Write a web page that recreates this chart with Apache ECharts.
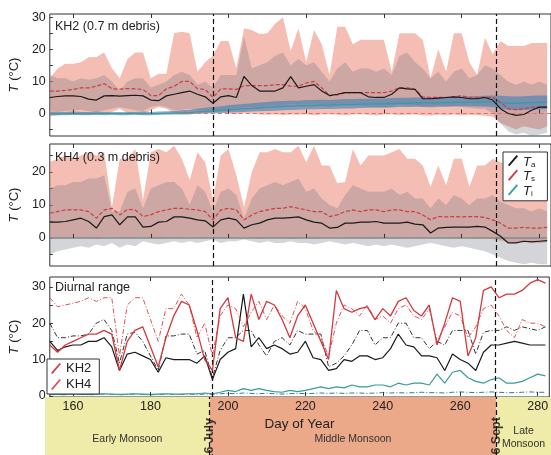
<!DOCTYPE html>
<html>
<head>
<meta charset="utf-8">
<script src="https://cdn.jsdelivr.net/npm/echarts@6/dist/echarts.min.js"></script>
<style>
html, body { margin: 0; padding: 0; background: #fff; }
#main { width: 551px; height: 455px; }
</style>
</head>
<body>
<div id="main"></div>
<script>
// day of year, every second day
const days = [154,156,158,160,162,164,166,168,170,172,
  174,176,178,180,182,184,186,188,190,192,
  194,196,198,200,202,204,206,208,210,212,
  214,216,218,220,222,224,226,228,230,232,
  234,236,238,240,242,244,246,248,250,252,
  254,256,258,260,262,264,266,268,270,272,
  274,276,278,280,282];

const xTicks = [160, 180, 200, 220, 240, 260, 280];
const phaseNames = ['Early Monsoon', 'Middle Monsoon', 'Late\nMonsoon'];
const phaseStart = [154, 196, 269];
const phaseEnd = [196, 269, 283];
const boundaryDays = [196, 269];
const boundaryLabels = ['16 July', '26 Sept'];

// KH2 (0.7 m debris)
const kh2TsMax = [11,14,15.5,15.5,16,17.5,17.6,19,14,11,
  17,19,19,11,12.4,12.4,25,25.5,25,13,
  16,18,22.6,22.6,14,26.6,26,24.8,25,28,
  30,19.5,26.6,16,26,21.6,12,27,27,21.6,
  23,23,23,23,13,25,25,25,23,11,
  20,13,25,25,16,12,23.6,18.5,22.6,21,
  21,21,22,22,22];
const kh2TsMin = [-0.8,-0.5,-0.3,-0.5,-0.2,-0.4,-0.3,-0.2,0.5,1.5,
  0.2,-0.2,-0.3,1,2,1.5,0,-0.2,-0.3,0.2,
  0,0.5,0.3,0,-0.2,0.2,0,-0.3,-0.4,-0.2,
  -0.5,-0.3,-0.4,-0.2,-0.5,-0.3,-0.2,-0.4,-0.5,-0.3,
  -0.2,-0.4,-0.6,-0.3,-0.2,-0.5,-0.4,-0.3,-0.5,-0.6,
  -0.4,-0.5,-0.3,-0.6,-0.4,-0.5,-0.7,-1,-3,-4,
  -5,-4,-4.5,-5,-4];
const kh2TaMax = [12,11,11,10,11,10.5,11,12,10,7,
  10,11,11,8,9,10,12,13,12,9,
  10,8,12,12,12,24,14,15,16,18,
  19,15,17,15,16,13,10,14,16,13,
  14,14,13,14,12,18,19,16,14,11,
  13,10,13,14,11,12,15,14,12,10,
  9,10,9,10,9];
const kh2TaMin = [1,0.5,0.8,1,1.2,0.8,0.5,1,1.5,2,
  1.5,1,0.8,2,2.5,2,1,1.2,1.5,1,
  1,0.5,1,1.5,1.5,2,2,2.2,2.5,2.5,
  2.5,3,2.8,3,3,2.5,2,2.5,2.8,2.5,
  2.5,2.2,2,2,2.3,2.8,2.5,2.5,2,1.8,
  2,2,2.2,2,1.8,1.5,1.5,0,-3,-5.5,
  -6.5,-6,-7,-6.5,-6];
const kh2TiMax = [0.6,0.5,0.5,0.6,0.5,0.5,0.6,0.5,0.5,0.5,
  0.5,0.5,0.6,0.5,0.6,0.7,0.8,1,1.2,1.5,
  1.8,2,2.3,2.6,2.8,3,3.2,3.4,3.6,3.8,
  3.9,4,4,4.2,4.2,4.3,4.2,4.4,4.5,4.5,
  4.6,4.6,4.7,4.7,4.8,4.9,4.9,5,5,5,
  5.1,5.1,5.2,5.3,5.3,5.4,5.5,5.6,5.5,5.4,
  5.3,5.4,5.5,5.6,5.6];
const kh2TiMin = [-0.6,-0.5,-0.5,-0.4,-0.5,-0.5,-0.4,-0.5,-0.4,-0.5,
  -0.5,-0.4,-0.5,-0.5,-0.4,-0.4,-0.3,-0.3,-0.2,-0.1,
  0,0.1,0.2,0.3,0.4,0.5,0.6,0.7,0.8,0.9,
  1,1.1,1.2,1.3,1.3,1.4,1.4,1.5,1.6,1.6,
  1.7,1.8,1.8,1.8,1.9,2,2,2.1,2.1,2.1,
  2.2,2.2,2.3,2.3,2.3,2.2,2.2,2,1.6,1.2,
  1,1.1,1.2,1.3,1.3];
const kh2Ta = [5,5.3,5.5,5.5,5.3,4.5,4.2,5.5,5.6,5.4,
  5.6,5.7,5.5,4.2,4,5.5,6,6.5,7,6,
  5.2,3.2,5.2,5.6,5,11.6,8.7,7,7,7,
  8,11.5,8,8.5,9,7,5.6,6,6.5,6.5,
  6.5,5.2,5,5,6,8,7.7,7.5,4.6,4.6,
  4.8,5,5.2,5,4.6,4.6,5,4.2,1.5,0,
  -0.6,-0.3,1,2,2];
const kh2Ts = [7,7,7.2,7.5,8,8,8.5,9.3,7.7,7.6,
  7.8,7.7,7.5,5.6,5.6,7.7,8.5,10,10,7.7,
  7.5,5,7.7,7.7,7.5,8.7,8.7,8.7,8.7,9,
  9,8.5,8.5,9.5,10,8,5.6,5.8,6.5,6.5,
  6.5,6.5,6.5,6.5,7,8,8,7.5,5.2,5,
  5,5,5.2,5.5,5,5,5,5,3.5,1.5,
  1.2,1.5,2,2,2];
const kh2Ti = [0,0,0,0,0,0,0,0,0,0,
  0,0,0,0,0,0.1,0.1,0.2,0.3,0.5,
  0.7,0.8,1,1.2,1.3,1.5,1.6,1.8,2,2.1,
  2.2,2.3,2.4,2.5,2.5,2.6,2.6,2.7,2.8,2.8,
  2.9,3,3,3,3.1,3.2,3.2,3.3,3.3,3.3,
  3.4,3.4,3.5,3.5,3.5,3.5,3.6,3.6,3.4,3.2,
  3.2,3.3,3.4,3.5,3.5];

// KH4 (0.3 m debris)
const kh4TsMax = [23,24,25,24,25,26,25,26,9.4,24,
  24,27,11.5,26,27,26,28,24,17.6,26,
  23,11.5,25,27,19,9.4,20,26,26,27,
  26,26,28,23,28,22,22,16.6,17,27,
  22,25,25,25,26,27,24,24,22,15.5,
  22,16,24,24,15.5,22,22,24,23,22,
  22,21,22,22,22];
const kh4TsMin = [-0.3,0,-0.2,0.1,-0.1,0,-0.2,0.1,0.2,0,
  -0.1,0,0.3,0,-0.2,0.1,0,-0.1,0.2,0,
  -0.1,0.2,0,-0.1,0.1,0.3,0,-0.2,0,-0.1,
  0,-0.2,-0.1,0,-0.2,0.1,0,0.2,0,-0.1,
  0,-0.2,0,-0.1,0,-0.2,0.1,0,-0.1,0.2,
  0,0.1,-0.1,0,0.1,-0.2,0,-0.3,-0.8,-1.2,
  -1.5,-1.2,-1.4,-1.5,-1.3];
const kh4TaMax = [15,16,16,17,17,18,18,19,8,8,
  14,15,9,15,16,17,17,15,10,16,
  14,8,14,15,13,6,12,15,16,17,
  16,17,18,14,15,12,10,9,13,16,
  15,14,14,14,15,13,14,12,12,9,
  12,10,13,12,10,12,12,13,11,10,
  9,9,8,9,8];
const kh4TaMin = [-5,-4,-3.5,-3,-2.5,-3,-2,-2.5,-1.5,-3,
  -2,-2.5,-1,-1.5,-2,-1.5,-1,-1.5,-1,-1.5,
  -1,-0.5,-1.5,-1,-1,-0.5,-1,-1.5,-1,-1.5,
  -1.5,-1,-1.5,-1.5,-2,-1.5,-1,-1.5,-2,-1.5,
  -2,-2.5,-2,-2.5,-2,-2.5,-3,-2.5,-2,-1.5,
  -2,-2.5,-3,-2.5,-3,-3.5,-4,-5,-6,-7,
  -7.5,-8,-7.5,-8,-8];
const kh4Ta = [4.8,4.8,5,5.5,6,5,3,6.5,7,4,
  6.4,6.4,3.3,3.5,4.8,5,6.4,6.4,6,5.5,
  5.2,3.3,5.5,6,5.5,3,4,4.5,5.5,6,
  6,6.2,6.4,5.5,4.8,4.5,3,3.2,4.5,4.5,
  4.8,4.8,5,4.5,4.5,4.5,4.8,4.2,4,1.5,
  3,3.2,3.3,3.3,3.3,3.5,3.3,2,0.5,-1.5,
  -1.5,-1,-1.2,-1,-0.8];
const kh4Ts = [7.5,8,8.5,8.5,8.5,8,6,8.5,9,7,
  8.7,8.5,6.5,7,8,8.5,9,9,8.7,8.5,
  8,5.5,8.5,9,8.5,5.5,7,8,8.5,9,
  9,9.5,9,8.5,8,8,6.5,7,8,8.5,
  8,8.5,8.5,8,8.5,8.5,8,8,7,5.5,
  6.5,6.4,6.5,6.4,6.5,6.5,6.2,5.5,4.5,3,
  3,3.2,3,3,3.2];
const kh4Ti = [0,0,0,0,0,0,0,0,0,0,
  0,0,0,0,0,0,0,0,0,0,
  0,0,0,0,0,0,0,0,0,0,
  0,0,0,0,0,0,0,0,0,0,
  0,0,0,0,0,0,0,0,0,0,
  0,0,0,0,0,0,0,0,0,0,
  0,0,0,0,0];

// diurnal range
const drKh2Ts = [14,12,14,15,16,17,17,18,17,7,
  15,18,19,13.5,8,16,22,26,25,18,
  10,7,24,27,16,15,28,21,26,25,
  21,16,22,25,20,15,10,29,24,23,
  24,24.5,21,24,22,26,27,23.5,22,25,
  14,20,27,26,11,16,29,30,27,28,
  28,29,31,32,31];
const drKh4Ts = [27,24.5,25,25.5,26,27,26,27,27,11,
  25,27,27,21,15,24,24,28,25,16,
  20,11,22,25,24,19,23,26,21,25,
  22,20,26,24,18,16,11,20,25,24,
  22,25,21,22,20,24,25,22,21,24,
  15,19,23,22,16,19,24,25,22,18,
  16,21,20,20,19];
const drKh2Ta = [15,12.5,13.5,14,14,15,15,16,13.5,7,
  11.5,12,11,10,6.5,10.5,10,10,10,9,
  11,4.5,10,12,13,28,13.5,16,13,14,
  13,11.5,12,15,10.5,10,7,7.5,10,9.5,
  11,11,10,10.5,13,17,14,13.5,11,11,
  10.5,7,11.5,10,9,7,12,14,14,14.5,
  15,14.5,14,14,14];
const drKh4Ta = [20,16,16,16.5,16.5,17,20,21,18,9,
  17,17.5,15,11,7,16.5,16.5,17,17,11.5,
  12.5,5,12.5,16,16,18,18,14,11,15,
  16,14,18,17,17,17,8,9,11,14,
  18,18,14,16,16,20,20,16,16,13,
  15,14,18,18,18,11.5,17.5,18,18,19,
  18,19,18.5,18,19];
const drKh2Ti = [0.4,0.5,0.4,0.6,0.5,0.4,0.5,0.6,0.5,0.4,
  0.5,0.6,0.5,0.4,0.5,0.6,0.5,0.5,0.6,0.6,
  0.8,0.6,1,1.5,1.2,2,1.5,2,1.5,1.2,
  1,1.5,1.2,1.5,2,2.5,2,2.5,2.2,3,
  2.5,2.5,3,3,2.5,3.5,3,3.5,3.5,3,
  6,3.5,6.5,7,5,4,3.5,4.5,5,3.5,
  3.5,4,5,6,5.5];
const drKh4Ti = [0.3,0.4,0.3,0.5,0.4,0.3,0.4,0.5,0.4,0.3,
  0.4,0.5,0.4,0.3,0.4,0.5,0.4,0.4,0.5,0.4,
  0.5,0.4,0.6,0.7,0.6,0.8,0.7,0.6,0.7,0.6,
  0.5,0.6,0.7,0.6,0.7,0.8,0.7,0.8,0.7,0.8,
  0.8,0.7,0.8,0.9,0.8,0.9,0.8,0.9,1,0.9,
  0.9,0.8,1,1.1,1,0.9,1,1.1,1,0.9,
  0.9,1,1.1,1,1];

const FONT = 'Liberation Sans';
const X_MIN = 154, X_MAX = 283;
const TXT = '#222';
const RED = '#d23a3f';
const TEAL = '#3a9c9c';
const SLASH = 'path://M0,10 L8.6,0 L10,1.2 L1.4,11.2 Z';
const DASHDOT = [5, 2, 1, 2];

const pts = arr => days.map((d, i) => [d, arr[i]]);

// min-max envelope as one polygon, placed through the grid's own axes
function band(gi, lo, hi, color, z) {
  return {
    type: 'custom', xAxisIndex: gi, yAxisIndex: gi, silent: true, z: z, clip: true,
    data: [[days[0], lo[0]]],
    renderItem: (params, api) => {
      const top = days.map((d, i) => api.coord([d, hi[i]]));
      const bottom = days.map((d, i) => api.coord([d, lo[i]])).reverse();
      return { type: 'polygon', shape: { points: top.concat(bottom) }, style: { fill: color } };
    }
  };
}

function line(name, gi, arr, color, type, width, z) {
  return {
    type: 'line', name: name, xAxisIndex: gi, yAxisIndex: gi, data: pts(arr),
    symbol: 'none', silent: true, z: z || 5,
    lineStyle: { color: color, type: type || 'solid', width: width || 1.2 },
    itemStyle: { color: color }
  };
}

const phaseMark = {
  silent: true, symbol: ['none', 'none'], label: { show: false },
  lineStyle: { color: '#111', type: [5, 3], width: 1.2 },
  data: boundaryDays.map(d => ({ xAxis: d }))
};

function xAxisBottom(gi, showLabel) {
  return {
    type: 'value', gridIndex: gi, min: X_MIN, max: X_MAX, position: 'bottom',
    splitLine: { show: false }, axisLine: { show: false }, z: 8,
    axisTick: { inside: true, length: 4, customValues: xTicks, lineStyle: { color: '#333' } },
    axisLabel: { show: showLabel, customValues: xTicks, margin: 3, fontSize: 12.5, color: TXT, fontFamily: FONT },
    name: showLabel ? 'Day of Year' : '', nameLocation: 'middle', nameGap: 20,
    nameTextStyle: { fontSize: 13.5, color: TXT, fontFamily: FONT }
  };
}
function xAxisTop(gi) {
  return {
    type: 'value', gridIndex: gi, min: X_MIN, max: X_MAX, position: 'top',
    splitLine: { show: false }, axisLine: { show: false }, axisLabel: { show: false },
    axisTick: { inside: true, length: 4, customValues: xTicks, lineStyle: { color: '#333' } }
  };
}
function yAxis(gi, min, max, labels, ticks) {
  return {
    type: 'value', gridIndex: gi, min: min, max: max,
    splitLine: { show: false }, axisLine: { show: false },
    axisTick: { inside: true, length: 3, customValues: ticks, lineStyle: { color: '#333' } },
    axisLabel: { customValues: labels, margin: 4, fontSize: 12.5, color: TXT, fontFamily: FONT },
    name: '{i|T} (°C)', nameLocation: 'middle', nameGap: 21,
    nameTextStyle: { fontSize: 13, color: TXT, fontFamily: FONT,
      rich: { i: { fontStyle: 'italic', fontSize: 13, color: TXT, fontFamily: FONT } } }
  };
}

const gridBox = { show: true, borderColor: '#333', borderWidth: 1, left: 45, right: -4 };
const panelTitle = (text, top) => ({
  text: text, left: 55, top: top, padding: 0,
  textStyle: { fontSize: 12.5, fontWeight: 'normal', color: TXT, fontFamily: FONT }
});

const PINK = 'rgba(236,125,105,0.5)';
const GREY = 'rgba(110,115,130,0.3)';
const BLUE = 'rgba(60,125,185,0.6)';

const chart = echarts.init(document.getElementById('main'));

const p1Ta = line('Ta', 0, kh2Ta, '#1a1a1a', 'solid', 1.2, 6);
p1Ta.markLine = phaseMark;
const p1Ts = line('Ts', 0, kh2Ts, RED, [4, 2], 1.2, 6);
p1Ts.markLine = { silent: true, symbol: ['none', 'none'], label: { show: false },
  lineStyle: { color: '#e0706a', type: [4, 3], width: 1 }, data: [{ yAxis: 0 }] };
const p2Ta = line('Ta', 1, kh4Ta, '#1a1a1a', 'solid', 1.2, 6);
p2Ta.markLine = phaseMark;
const p2Ti = line('Ti', 1, kh4Ti, '#7f8c8c', 'solid', 1.4, 5);
const p3Ta = line('KH2 Ta', 2, drKh2Ta, '#1a1a1a', 'solid', 1.2, 5);
p3Ta.markLine = phaseMark;

const bandSeries = {
  type: 'line', xAxisIndex: 3, yAxisIndex: 3, silent: true, symbol: 'none',
  lineStyle: { width: 0, opacity: 0 }, z: 1,
  data: phaseStart.map(d => [d, 0]),
  markArea: {
    silent: true,
    data: phaseNames.map((n, i) => [
      { xAxis: phaseStart[i], name: n,
        itemStyle: { color: i === 1 ? '#eca98a' : '#efeba8' },
        label: { show: true, position: 'insideBottom', distance: i === 2 ? 4 : 9,
          fontSize: 10.5, lineHeight: 13, color: '#333', fontFamily: FONT } },
      { xAxis: phaseEnd[i] }
    ])
  },
  markLine: phaseMark
};
const dateSeries = {
  type: 'scatter', xAxisIndex: 3, yAxisIndex: 3, silent: true, symbolSize: 0, z: 6,
  data: boundaryDays.map((d, i) => ({ value: [d, 0.27], name: boundaryLabels[i] })),
  label: { show: true, position: 'inside', rotate: 90, formatter: p => p.name,
    fontSize: 12.5, fontWeight: 'bold', color: '#111', fontFamily: FONT }
};

chart.setOption({
  animation: false,
  backgroundColor: '#fff',
  textStyle: { fontFamily: FONT },
  title: [
    panelTitle('KH2 (0.7 m debris)', 20),
    panelTitle('KH4 (0.3 m debris)', 151),
    panelTitle('Diurnal range', 281)
  ],
  grid: [
    Object.assign({ top: 14, height: 122 }, gridBox),
    Object.assign({ top: 144, height: 122 }, gridBox),
    Object.assign({ top: 277, height: 120 }, gridBox),
    { left: 45, right: -4, top: 397, height: 58, show: false }
  ],
  xAxis: [
    xAxisBottom(0, false), xAxisBottom(1, false), xAxisBottom(2, true),
    { type: 'value', gridIndex: 3, min: X_MIN, max: X_MAX, show: false },
    xAxisTop(0), xAxisTop(1), xAxisTop(2)
  ],
  yAxis: [
    yAxis(0, -7, 31, [0, 10, 20, 30], [-5, 0, 5, 10, 15, 20, 25, 30]),
    yAxis(1, -8.5, 28.5, [0, 10, 20], [-5, 0, 5, 10, 15, 20, 25]),
    yAxis(2, -0.3, 32.7, [0, 10, 20, 30], [0, 5, 10, 15, 20, 25, 30]),
    { type: 'value', gridIndex: 3, min: 0, max: 1, show: false }
  ],
  legend: [
    {
      data: ['Ta', 'Ts', 'Ti'], orient: 'vertical', left: 503, top: 152, z: 10,
      icon: SLASH, itemWidth: 10, itemHeight: 12, itemGap: 1,
      padding: [3, 12, 3, 5], backgroundColor: '#fff', borderColor: '#333', borderWidth: 1,
      selectedMode: false,
      formatter: n => '{t|T}{s|' + n.slice(1) + '}',
      textStyle: { color: TXT, fontFamily: FONT, rich: {
        t: { fontSize: 13, fontStyle: 'italic', lineHeight: 16, verticalAlign: 'bottom', color: TXT, fontFamily: FONT },
        s: { fontSize: 8, lineHeight: 8, verticalAlign: 'bottom', color: TXT, fontFamily: FONT } } }
    },
    {
      data: ['KH2', 'KH4'], orient: 'vertical', left: 47, top: 359, z: 10,
      icon: SLASH, itemWidth: 10, itemHeight: 12, itemGap: 3,
      padding: [3, 8, 3, 4], backgroundColor: '#fff', borderColor: '#333', borderWidth: 1,
      selectedMode: false,
      textStyle: { fontSize: 13, color: TXT, fontFamily: FONT }
    }
  ],
  series: [
    // panel 1: KH2
    band(0, kh2TsMin, kh2TsMax, PINK, 1),
    band(0, kh2TaMin, kh2TaMax, GREY, 2),
    band(0, kh2TiMin, kh2TiMax, BLUE, 3),
    line('Ti', 0, kh2Ti, TEAL, 'solid', 1.3, 5),
    p1Ts,
    p1Ta,
    // panel 2: KH4
    band(1, kh4TsMin, kh4TsMax, PINK, 1),
    band(1, kh4TaMin, kh4TaMax, GREY, 2),
    p2Ti,
    line('Ts', 1, kh4Ts, RED, [4, 2], 1.2, 6),
    p2Ta,
    // panel 3: diurnal range
    line('KH4 Ti', 2, drKh4Ti, '#2f7f7a', DASHDOT, 1, 4),
    line('KH2 Ti', 2, drKh2Ti, TEAL, 'solid', 1.2, 4),
    line('KH4 Ta', 2, drKh4Ta, '#333', DASHDOT, 1, 5),
    p3Ta,
    line('KH4', 2, drKh4Ts, '#e0505a', DASHDOT, 1, 5),
    line('KH2', 2, drKh2Ts, RED, 'solid', 1.3, 6),
    // phase band
    bandSeries,
    dateSeries
  ]
});
</script>
</body>
</html>
